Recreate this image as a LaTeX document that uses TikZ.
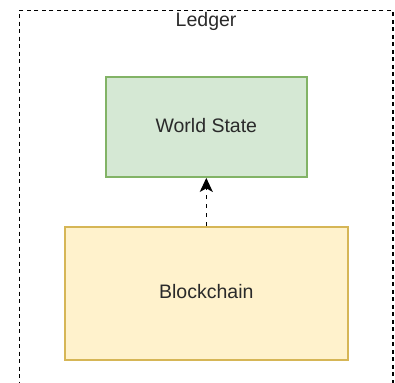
\documentclass[tikz,border=0pt]{standalone}
\usepackage{fontspec}
\setmainfont{Liberation Sans}
\usetikzlibrary{arrows.meta}
\definecolor{wsfill}{HTML}{D5E8D4}
\definecolor{wsdraw}{HTML}{82B366}
\definecolor{bcfill}{HTML}{FFF2CC}
\definecolor{bcdraw}{HTML}{D6B656}
\definecolor{txt}{HTML}{2A2A2A}
\tikzset{
  container/.style={draw=black, line width=1.6pt, dash pattern=on 4pt off 3.5pt,
    rectangle, inner sep=0pt},
  lbl/.style={text=txt, font=\fontsize{19.5}{23}\selectfont, inner sep=0pt},
  box/.style={rectangle, line width=1.8pt, inner sep=0pt, text=txt,
    font=\fontsize{19.5}{23}\selectfont, text height=14pt, text depth=4pt},
  flow/.style={draw=black, line width=1.6pt, dash pattern=on 4.5pt off 4.5pt,
    -{Stealth[length=14pt,width=13pt,inset=3.5pt]}}
}
\begin{document}
\begin{tikzpicture}[x=1pt,y=-1pt]
\useasboundingbox (0,0) rectangle (395,382);
\clip (0,0) rectangle (395,382);
% ledger container, open towards the bottom edge
\node[container, minimum width=373.2pt, minimum height=420pt] (ledger) at (206.1,220.5) {};
\node[lbl, anchor=base] (ledgerlabel) at (206.1,26.7) {Ledger};
% world state and blockchain
\node[box, fill=wsfill, draw=wsdraw, minimum width=200.7pt, minimum height=100pt] (ws) at (206.3,127) {World State};
\node[box, fill=bcfill, draw=bcdraw, minimum width=282.7pt, minimum height=133pt] (bc) at (206.3,293.5) {Blockchain};
\draw[flow] (bc) -- (ws);
\end{tikzpicture}
\end{document}
